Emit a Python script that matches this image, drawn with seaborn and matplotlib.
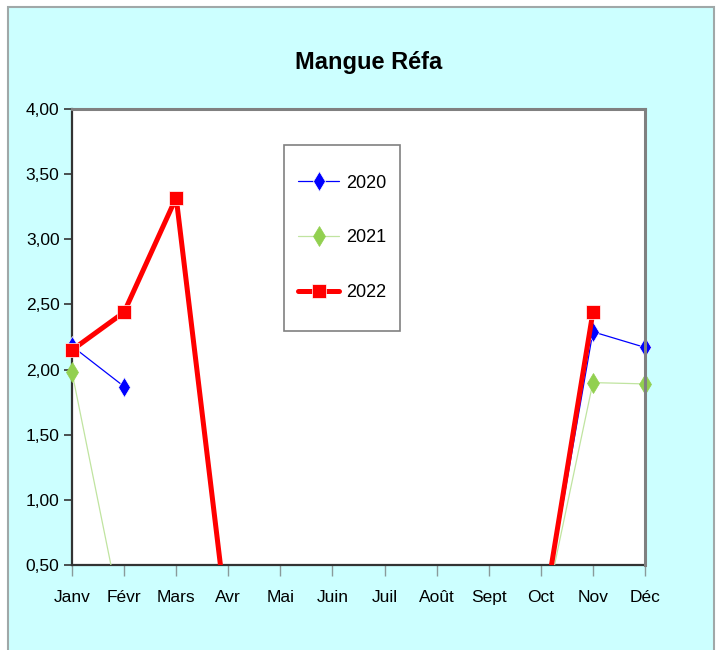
import numpy as np
import pandas as pd
import matplotlib
matplotlib.use("Agg")
import matplotlib.pyplot as plt
from matplotlib.patches import Rectangle
from matplotlib.ticker import FuncFormatter
from matplotlib.transforms import Bbox, TransformedBbox
import seaborn as sns

months = ["Janv", "Févr", "Mars", "Avr", "Mai", "Juin", "Juil", "Août", "Sept", "Oct", "Nov", "Déc"]
v2020 = [2.18, 1.87, np.nan, np.nan, np.nan, np.nan, np.nan, np.nan, np.nan, 0.0, 2.29, 2.17]
v2021 = [1.98, 0.0, 0.0, 0.0, 0.0, 0.0, 0.0, 0.0, 0.0, 0.0, 1.90, 1.89]
v2022 = [2.15, 2.44, 3.32, 0.0, 0.0, 0.0, 0.0, 0.0, 0.0, 0.0, 2.44, np.nan]
years = ["2020", "2021", "2022"]
title = "Mangue Réfa"

sns.set_theme(style="white")
FONT = ["Liberation Sans Narrow", "Liberation Sans", "DejaVu Sans"]
plt.rcParams["font.family"] = FONT
plt.rcParams["text.color"] = "black"
plt.rcParams["xtick.color"] = "black"
plt.rcParams["ytick.color"] = "black"

rows = []
for yr, vals in zip(years, [v2020, v2021, v2022]):
    seg = 0
    prev_nan = False
    for i, (m, v) in enumerate(zip(months, vals)):
        if np.isnan(v):
            prev_nan = True
            continue
        if prev_nan:
            seg += 1
            prev_nan = False
        rows.append({"mois": i, "valeur": v, "annee": yr, "seg": f"{yr}-{seg}"})
df = pd.DataFrame(rows)

fig = plt.figure(figsize=(7.25, 6.5), dpi=100, facecolor="white")
fig.patches.append(Rectangle((8 / 725, -0.01), (714 - 8) / 725, 1.01 - 7 / 650,
                             transform=fig.transFigure, facecolor="#ccffff",
                             edgecolor="#a0a8a8", linewidth=1.5, zorder=-10))

ax = fig.add_axes([72 / 725, 1 - 565 / 650, (645 - 72) / 725, (565 - 109) / 650])
ax.set_facecolor("white")

palette = {"2020": "#0000ff", "2021": "#92d050", "2022": "#ff0000"}
markers = {"2020": "d", "2021": "d", "2022": "s"}
sizes = {"2020": 0.9, "2021": 0.9, "2022": 3.6}

sns.lineplot(data=df, x="mois", y="valeur", hue="annee", style="annee", size="annee",
             units="seg", estimator=None, palette=palette, markers=markers, dashes=False,
             sizes=sizes, markersize=10, markeredgewidth=0.5, ax=ax, legend="full")

clip = TransformedBbox(Bbox([[-0.05, 0.0], [1.05, 1.05]]), ax.transAxes)
for ln in ax.lines:
    ln.set_clip_box(clip)
    c = matplotlib.colors.to_hex(ln.get_color())
    if c == "#92d050":
        ln.set_color("#c0e4a0")
        ln.set_markerfacecolor("#92d050")
        ln.set_markeredgecolor("#92d050")

ax.set_xlim(0, 11)
ax.set_ylim(0.5, 4.0)
ax.set_xticks(range(12))
ax.set_xticklabels(months, fontsize=12.5)
ax.set_yticks(np.arange(0.5, 4.01, 0.5))
ax.yaxis.set_major_formatter(FuncFormatter(lambda v, p: f"{v:.2f}".replace(".", ",")))
ax.tick_params(axis="y", labelsize=12.5, length=6, width=1.2, color="#333333",
               labelcolor="black", pad=3, left=True)
ax.tick_params(axis="x", length=8, width=1.0, color="#8a9a9a", labelcolor="black",
               pad=10, bottom=True)
ax.set_xlabel("")
ax.set_ylabel("")

for s in ["top", "right"]:
    ax.spines[s].set_color("#808080")
    ax.spines[s].set_linewidth(2.2)
for s in ["left", "bottom"]:
    ax.spines[s].set_color("#333333")
    ax.spines[s].set_linewidth(1.6)
    ax.spines[s].set_zorder(1.5)

# legend
handles, labels = ax.get_legend_handles_labels()
hmap = {}
for h, l in zip(handles, labels):
    if l in years and l not in hmap:
        hmap[l] = h
for l, h in hmap.items():
    if l == "2021":
        h.set_color("#c0e4a0")
        h.set_markerfacecolor("#92d050")
        h.set_markeredgecolor("#92d050")
leg = ax.legend([hmap[y] for y in years], years, loc="center",
                bbox_to_anchor=((342 - 72) / 573, (565 - 238) / 456),
                frameon=False, fontsize=13, labelspacing=2.1, handlelength=2.3,
                handletextpad=0.35, labelcolor="black")
ax.add_patch(Rectangle(((284 - 72) / 573, (565 - 331) / 456), (400 - 284) / 573, (331 - 145) / 456,
                       transform=ax.transAxes, facecolor="white", edgecolor="#808080",
                       linewidth=1.2, zorder=4))
leg.set_zorder(5)

fig.text(369 / 725, 1 - 62 / 650, title, ha="center", va="center", fontsize=17,
         fontweight="bold", color="black", family=FONT)

fig.savefig("out.png", dpi=100, facecolor=fig.get_facecolor())
